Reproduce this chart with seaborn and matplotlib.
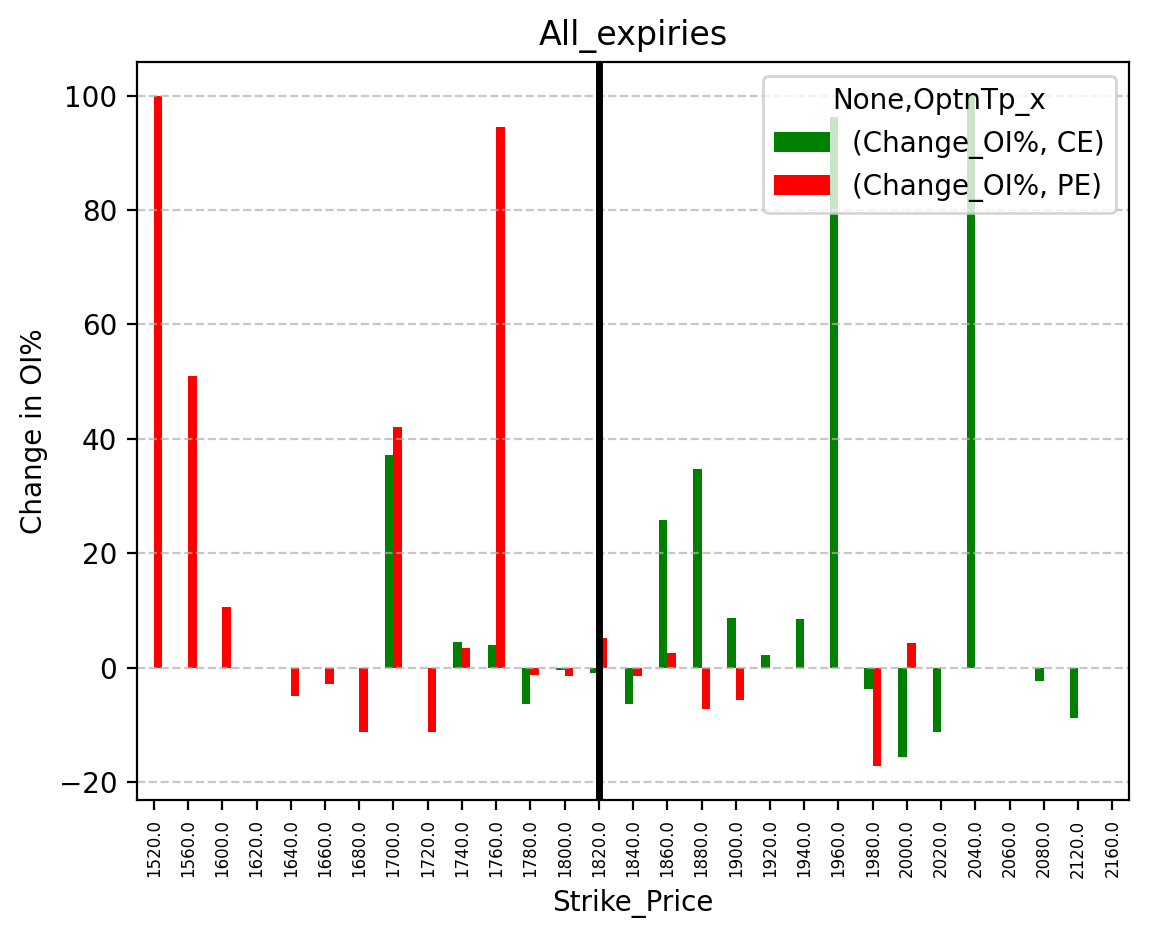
import matplotlib
matplotlib.use("Agg")
import matplotlib.pyplot as plt
import numpy as np
import pandas as pd
import seaborn as sns

# strike prices on the x axis
strikes = [1520.0, 1560.0, 1600.0, 1620.0, 1640.0, 1660.0, 1680.0, 1700.0, 1720.0,
           1740.0, 1760.0, 1780.0, 1800.0, 1820.0, 1840.0, 1860.0, 1880.0, 1900.0,
           1920.0, 1940.0, 1960.0, 1980.0, 2000.0, 2020.0, 2040.0, 2060.0, 2080.0,
           2120.0, 2160.0]

# change in OI% for calls / puts (None = no bar)
ce_change = [None, None, None, None, None, None, None, 37.2, None,
             4.5, 4.0, -6.3, -0.5, -0.9, -6.3, 25.8, 34.7, 8.7,
             2.2, 8.5, 96.3, -3.7, -15.7, -11.2, 100.0, None, -2.3,
             -8.9, None]
pe_change = [100.0, 51.0, 10.6, None, -4.9, -2.85, -11.2, 42.1, -11.2,
             3.45, 94.5, -1.3, -1.45, 5.2, -1.4, 2.6, -7.2, -5.6,
             None, None, None, -17.3, 4.3, None, None, None, None,
             None, None]

spot_strike = 1820.0
series_labels = ["(Change_OI%, CE)", "(Change_OI%, PE)"]
colors = ["green", "red"]

tick_labels = [str(s) for s in strikes]

rows = []
for s, c, p in zip(tick_labels, ce_change, pe_change):
    rows.append({"Strike_Price": s, "series": series_labels[0], "value": c})
    rows.append({"Strike_Price": s, "series": series_labels[1], "value": p})
df = pd.DataFrame(rows)
df["value"] = pd.to_numeric(df["value"])

fig = plt.figure(figsize=(1149 / 200, 939 / 200), dpi=200)
ax = fig.add_axes([0.119, 0.148, 0.864, 0.786])

sns.barplot(data=df, x="Strike_Price", y="value", hue="series",
            order=tick_labels, hue_order=series_labels,
            palette=colors, saturation=1, width=0.5, errorbar=None,
            linewidth=0, ax=ax)

ax.axvline(tick_labels.index(str(spot_strike)), color="black", linewidth=2.5)
ax.grid(axis="y", linestyle="--", alpha=0.7)
ax.margins(y=0.05)

ax.set_title("All_expiries")
ax.set_xlabel("Strike_Price")
ax.set_ylabel("Change in OI%")
ax.tick_params(axis="x", labelrotation=90, labelsize=6)
ax.legend(title="None,OptnTp_x", loc="upper right")

fig.savefig("out.png", dpi=200)
